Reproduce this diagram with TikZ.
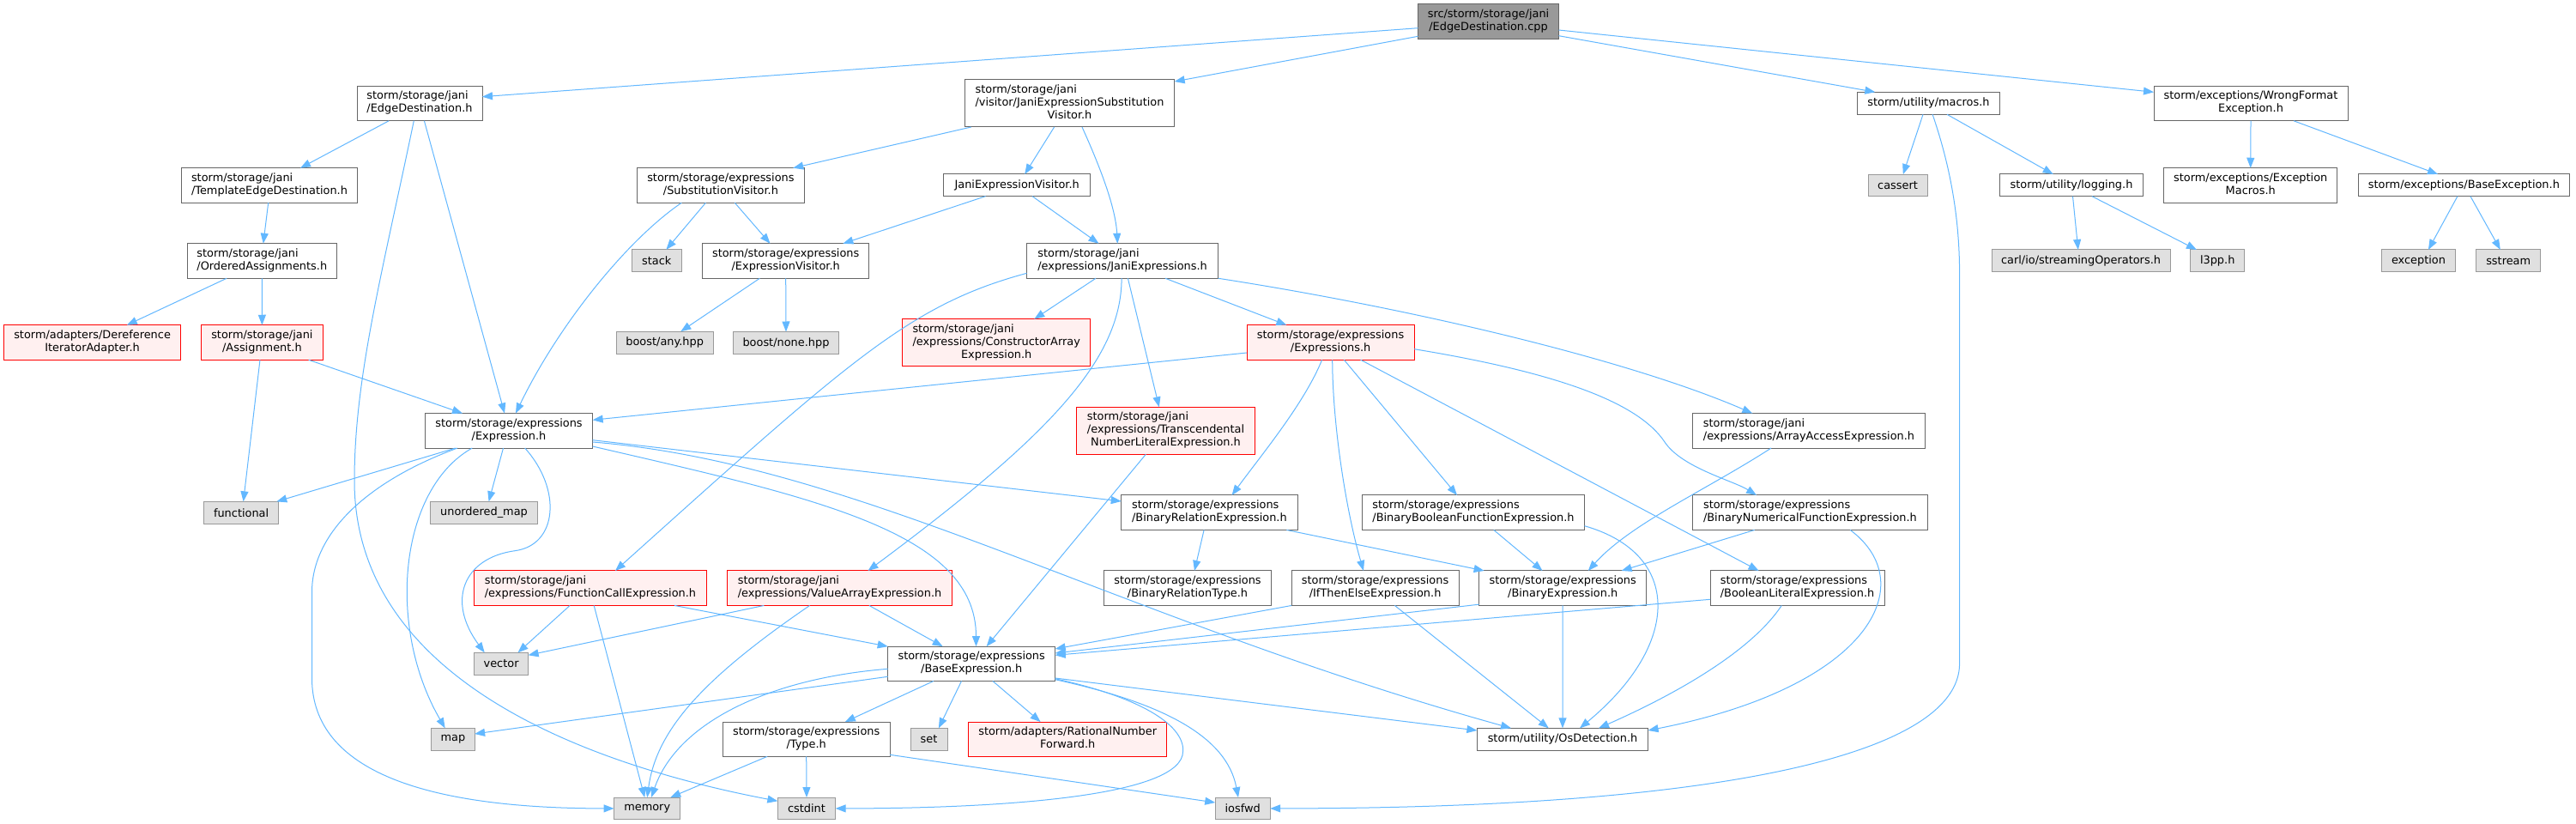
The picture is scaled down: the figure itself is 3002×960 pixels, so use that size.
\documentclass[tikz,border=0pt]{standalone}
\usepackage{fontspec}
\setmainfont{DejaVu Sans}
\usetikzlibrary{arrows.meta,calc}
\definecolor{edgeblue}{HTML}{63B8FF}
\definecolor{bordw}{HTML}{666666}
\definecolor{bordg}{HTML}{999999}
\definecolor{fillg}{HTML}{E0E0E0}
\definecolor{fillr}{HTML}{FFF0F0}
\definecolor{fillroot}{HTML}{999999}
\newcommand{\gfont}{\fontsize{12.9pt}{15pt}\selectfont}
\newcommand{\twol}[2]{\begin{tabular}{@{}l@{}}#1\\\multicolumn{1}{@{}c@{}}{#2}\end{tabular}}
\newcommand{\threel}[3]{\begin{tabular}{@{}l@{}}#1\\#2\\\multicolumn{1}{@{}c@{}}{#3}\end{tabular}}
\tikzset{
  nd/.style={rectangle, inner sep=0pt, outer sep=0pt, line width=1pt, font=\gfont, text=black},
  wnode/.style={nd, draw=bordw, fill=white},
  gnode/.style={nd, draw=bordg, fill=fillg},
  rnode/.style={nd, draw=red, fill=fillr},
  rootnode/.style={nd, draw=bordw, fill=fillroot},
  edg/.style={draw=edgeblue, line width=1pt, -{Triangle[length=12pt,width=9pt]}},
}
\begin{document}
\begin{tikzpicture}[x=1pt,y=-1pt]
\fill[white] (0,0) rectangle (3002,960);
\useasboundingbox (0,0) rectangle (3002,960);

% ---- nodes ----
\node[rootnode, minimum width=164pt, minimum height=40.6pt] (cpp) at (1734.5,25) {\twol{src/storm/storage/jani}{/EdgeDestination.cpp}};
\node[wnode, minimum width=146pt, minimum height=40.5pt] (ED) at (489,120.5) {\twol{storm/storage/jani}{/EdgeDestination.h}};
\node[wnode, minimum width=205.5pt, minimum height=40.5pt] (TED) at (314,216) {\twol{storm/storage/jani}{/TemplateEdgeDestination.h}};
\node[wnode, minimum width=174.5pt, minimum height=40.5pt] (OA) at (305.3,304) {\twol{storm/storage/jani}{/OrderedAssignments.h}};
\node[rnode, minimum width=205.6pt, minimum height=40.5pt] (DIA) at (107.6,399) {\twol{storm/adapters/Dereference}{IteratorAdapter.h}};
\node[rnode, minimum width=141.6pt, minimum height=40.5pt] (ASG) at (305.4,399) {\twol{storm/storage/jani}{/Assignment.h}};
\node[wnode, minimum width=244.3pt, minimum height=55pt] (JESV) at (1246.5,120.5) {\threel{storm/storage/jani}{/visitor/JaniExpressionSubstitution}{Visitor.h}};
\node[wnode, minimum width=195pt, minimum height=40.5pt] (SV) at (839.9,216) {\twol{storm/storage/expressions}{/SubstitutionVisitor.h}};
\node[wnode, minimum width=171pt, minimum height=25.7pt] (JEV) at (1185.2,215.8) {JaniExpressionVisitor.h};
\node[gnode, minimum width=58pt, minimum height=26pt] (stack) at (765.2,303.8) {stack};
\node[wnode, minimum width=194.4pt, minimum height=40.5pt] (EV) at (915.7,304) {\twol{storm/storage/expressions}{/ExpressionVisitor.h}};
\node[wnode, minimum width=223pt, minimum height=40.5pt] (JE) at (1308.1,304) {\twol{storm/storage/jani}{/expressions/JaniExpressions.h}};
\node[gnode, minimum width=112.7pt, minimum height=26pt] (bany) at (774.7,399.2) {boost/any.hpp};
\node[gnode, minimum width=123pt, minimum height=26pt] (bnone) at (916,399.5) {boost/none.hpp};
\node[rnode, minimum width=219pt, minimum height=54.6pt] (CAE) at (1161.2,399) {\threel{storm/storage/jani}{/expressions/ConstructorArray}{Expression.h}};
\node[rnode, minimum width=195.2pt, minimum height=40.5pt] (EXS) at (1550.6,399) {\twol{storm/storage/expressions}{/Expressions.h}};
\node[rnode, minimum width=207.5pt, minimum height=55pt] (TNLE) at (1358.5,501.8) {\threel{storm/storage/jani}{/expressions/Transcendental}{NumberLiteralExpression.h}};
\node[wnode, minimum width=166pt, minimum height=26pt] (macros) at (2247.5,120.3) {storm/utility/macros.h};
\node[gnode, minimum width=69pt, minimum height=25.7pt] (cassert) at (2211.5,216) {cassert};
\node[wnode, minimum width=226pt, minimum height=40.5pt] (WFE) at (2623,120.5) {\twol{storm/exceptions/WrongFormat}{Exception.h}};
\node[wnode, minimum width=167pt, minimum height=25.7pt] (logging) at (2414,215.8) {storm/utility/logging.h};
\node[wnode, minimum width=202pt, minimum height=40.5pt] (EM) at (2622.7,216) {\twol{storm/exceptions/Exception}{Macros.h}};
\node[wnode, minimum width=246.7pt, minimum height=25.7pt] (BE) at (2871.4,215.8) {storm/exceptions/BaseException.h};
\node[gnode, minimum width=208pt, minimum height=25.7pt] (carl) at (2425,303.8) {carl/io/streamingOperators.h};
\node[gnode, minimum width=63pt, minimum height=25.7pt] (l3pp) at (2584.2,303.8) {l3pp.h};
\node[gnode, minimum width=86.7pt, minimum height=25.7pt] (exception) at (2818.5,303.8) {exception};
\node[gnode, minimum width=75pt, minimum height=25.7pt] (sstream) at (2923.2,303.8) {sstream};
\node[wnode, minimum width=195.3pt, minimum height=40.5pt] (EX) at (593,501.8) {\twol{storm/storage/expressions}{/Expression.h}};
\node[gnode, minimum width=87.3pt, minimum height=25.7pt] (functional) at (281.1,597.2) {functional};
\node[gnode, minimum width=124.6pt, minimum height=25.7pt] (umap) at (564,597.2) {unordered\_map};
\node[rnode, minimum width=270.8pt, minimum height=40.5pt] (FCE) at (688,685.2) {\twol{storm/storage/jani}{/expressions/FunctionCallExpression.h}};
\node[gnode, minimum width=63pt, minimum height=25.7pt] (vector) at (584.1,773.2) {vector};
\node[gnode, minimum width=50.4pt, minimum height=25.7pt] (map) at (527.9,861.2) {map};
\node[gnode, minimum width=77.3pt, minimum height=25.7pt] (memory) at (754.2,941.9) {memory};
\node[rnode, minimum width=262.8pt, minimum height=40.5pt] (VAE) at (978.5,685.2) {\twol{storm/storage/jani}{/expressions/ValueArrayExpression.h}};
\node[wnode, minimum width=205.3pt, minimum height=40.5pt] (BRE) at (1409.4,597.2) {\twol{storm/storage/expressions}{/BinaryRelationExpression.h}};
\node[wnode, minimum width=195.3pt, minimum height=40.5pt] (BRT) at (1384,685.2) {\twol{storm/storage/expressions}{/BinaryRelationType.h}};
\node[wnode, minimum width=195pt, minimum height=40.3pt] (BX) at (1132.2,773.3) {\twol{storm/storage/expressions}{/BaseExpression.h}};
\node[wnode, minimum width=194.8pt, minimum height=40.3pt] (Type) at (939.7,861.2) {\twol{storm/storage/expressions}{/Type.h}};
\node[gnode, minimum width=43pt, minimum height=25.7pt] (set) at (1082.5,861.2) {set};
\node[rnode, minimum width=230.7pt, minimum height=40.3pt] (RNF) at (1244.2,861.2) {\twol{storm/adapters/RationalNumber}{Forward.h}};
\node[gnode, minimum width=67.3pt, minimum height=25.7pt] (cstdint) at (940,941.9) {cstdint};
\node[gnode, minimum width=64pt, minimum height=25.7pt] (iosfwd) at (1448.2,941.9) {iosfwd};
\node[wnode, minimum width=271pt, minimum height=40.5pt] (AAE) at (2108,501.8) {\twol{storm/storage/jani}{/expressions/ArrayAccessExpression.h}};
\node[wnode, minimum width=259pt, minimum height=40.5pt] (BBFE) at (1717,597.2) {\twol{storm/storage/expressions}{/BinaryBooleanFunctionExpression.h}};
\node[wnode, minimum width=273.8pt, minimum height=40.5pt] (BNFE) at (2109.4,597.2) {\twol{storm/storage/expressions}{/BinaryNumericalFunctionExpression.h}};
\node[wnode, minimum width=195pt, minimum height=40.5pt] (ITE) at (1602.6,685.2) {\twol{storm/storage/expressions}{/IfThenElseExpression.h}};
\node[wnode, minimum width=195pt, minimum height=40.5pt] (BE2) at (1821.2,685.2) {\twol{storm/storage/expressions}{/BinaryExpression.h}};
\node[wnode, minimum width=203pt, minimum height=40.5pt] (BLE) at (2094.5,685.2) {\twol{storm/storage/expressions}{/BooleanLiteralExpression.h}};
\node[wnode, minimum width=199.2pt, minimum height=25.7pt] (OS) at (1821,861.2) {storm/utility/OsDetection.h};

% ---- edges ----
\draw[edg] ([yshift=-7.7pt]cpp.west) -- ([yshift=7.8pt]ED.east);
\draw[edg] ([yshift=-17.3pt]cpp.west) -- ([yshift=-2pt]JESV.north east);
\draw[edg] ([yshift=-10pt]cpp.east) -- ([yshift=13.2pt]WFE.west);
\draw[edg] ([yshift=-16.7pt]cpp.east) -- ([xshift=-62.2pt]macros.north);
\draw[edg] ([xshift=-35.8pt]ED.south) -- ([xshift=36pt]TED.north);
\draw[edg] ([xshift=5.4pt]ED.south) -- ([xshift=-5pt]EX.north);
\draw[edg] ([xshift=-6.7pt]ED.south) .. controls (445,320) and (413,440) .. (413,560) .. controls (413,790) and (680,890) .. ([yshift=8.6pt]cstdint.west);
\draw[edg] ([xshift=-1.3pt]TED.south) -- ([xshift=1.5pt]OA.north);
\draw[edg] ([xshift=-41.1pt]OA.south) -- ([xshift=40.2pt]DIA.north);
\draw[edg] (OA.south) -- (ASG.north);
\draw[edg] ([xshift=-2.4pt]ASG.south) -- ([xshift=2.5pt]functional.north);
\draw[edg] ([xshift=54.3pt]ASG.south) -- ([xshift=-54pt]EX.north);
\draw[edg] ([xshift=-114.8pt]JESV.south) -- ([xshift=84.3pt]SV.north);
\draw[edg] ([xshift=-17.9pt]JESV.south) -- ([xshift=9pt]JEV.north);
\draw[edg] ([xshift=14.5pt]JESV.south) .. controls (1280,190) and (1300,240) .. ([xshift=-5.8pt]JE.north);
\draw[edg] ([xshift=-17.5pt]SV.south) -- ([xshift=11.2pt]stack.north);
\draw[edg] ([xshift=16.4pt]SV.south) -- ([xshift=-18.2pt]EV.north);
\draw[edg] ([xshift=-45.6pt]SV.south) .. controls (730,280) and (650,380) .. ([xshift=8pt]EX.north);
\draw[edg] ([xshift=-36.6pt]JEV.south) -- ([xshift=66.7pt]EV.north);
\draw[edg] ([xshift=17.8pt]JEV.south) -- ([xshift=-27.6pt]JE.north);
\draw[edg] ([xshift=-30.3pt]EV.south) -- ([xshift=18.6pt]bany.north);
\draw[edg] (EV.south) -- (bnone.north);
\draw[edg] ([xshift=-31.1pt]JE.south) -- ([xshift=44.1pt]CAE.north);
\draw[edg] ([yshift=-14.3pt]JE.west) .. controls (1060,355) and (990,420) .. ([xshift=29pt]FCE.north);
\draw[edg] ([xshift=-1pt]JE.south) .. controls (1307,420) and (1220,510) .. ([xshift=33pt]VAE.north);
\draw[edg] ([xshift=6.3pt]JE.south) -- ([xshift=-7.7pt]TNLE.north);
\draw[edg] ([xshift=49.9pt]JE.south) -- ([xshift=-51.2pt]EXS.north);
\draw[edg] (JE.south east) .. controls (1650,360) and (1900,420) .. ([xshift=-65.7pt]AAE.north);
\draw[edg] ([yshift=-12pt]EXS.west) -- ([yshift=12.5pt]EX.east);
\draw[edg] ([xshift=-10pt]EXS.south) .. controls (1520,470) and (1470,530) .. ([xshift=26.2pt]BRE.north);
\draw[edg] ([xshift=2.1pt]EXS.south) .. controls (1553,500) and (1570,600) .. ([xshift=-13.6pt]ITE.north);
\draw[edg] ([xshift=15.7pt]EXS.south) -- ([xshift=-19pt]BBFE.north);
\draw[edg] ([xshift=35.1pt]EXS.south) -- ([xshift=-44.9pt]BLE.north);
\draw[edg] ([yshift=-7.7pt]EXS.east) .. controls (1820,435) and (1910,470) .. (1940,515) .. controls (1960,545) and (2020,560) .. ([xshift=-62.4pt]BNFE.north);
\draw[edg] ([xshift=-44pt]AAE.south) .. controls (1990,570) and (1900,610) .. ([xshift=29.6pt]BE2.north);
\draw[edg] ([xshift=-62.2pt]EX.south) -- ([xshift=41.2pt]functional.north);
\draw[edg] ([xshift=-6.5pt]EX.south) -- ([xshift=5.6pt]umap.north);
\draw[edg] ([xshift=18.7pt]EX.south) .. controls (655,570) and (650,635) .. (600,641.7) .. controls (540,650) and (520,700) .. ([xshift=-19.4pt]vector.north);
\draw[edg] ([xshift=-42.8pt]EX.south) .. controls (465,570) and (450,730) .. ([xshift=-9.2pt]map.north);
\draw[edg] ([xshift=-60pt]EX.south) .. controls (430,560) and (363.5,620) .. (363.5,690) -- (363.5,790) .. controls (363.5,900) and (500,941.9) .. (memory.west);
\draw[edg] ([yshift=-10.9pt]EX.east) -- ([yshift=13.2pt]BRE.west);
\draw[edg] ([yshift=-13.2pt]EX.east) .. controls (1000,540) and (1300,720) .. ([xshift=-60pt]OS.north);
\draw[edg] ([yshift=-18.2pt]EX.east) .. controls (950,580) and (1137.5,620) .. ([xshift=5.3pt]BX.north);
\draw[edg] ([xshift=-6.3pt]BRE.south) -- ([xshift=8pt]BRT.north);
\draw[edg] ([xshift=90pt]BRE.south) -- ([xshift=-91.6pt]BE2.north);
\draw[edg] ([xshift=23.8pt]BBFE.south) -- ([xshift=-23.7pt]BE2.north);
\draw[edg] ([yshift=-15.5pt]BBFE.east) .. controls (1960,645) and (1960,750) .. ([xshift=20pt]OS.north);
\draw[edg] ([xshift=-64.7pt]BNFE.south) -- ([xshift=68.4pt]BE2.north);
\draw[edg] ([xshift=46.8pt]BNFE.south) .. controls (2240,680) and (2180,800) .. ([yshift=10.2pt]OS.east);
\draw[edg] (BE2.south) -- (OS.north);
\draw[edg] ([yshift=1.3pt]BE2.south west) -- ([yshift=12.3pt]BX.east);
\draw[edg] (ITE.south west) -- ([yshift=17.3pt]BX.east);
\draw[edg] ([yshift=-13.1pt]BLE.west) -- ([yshift=10pt]BX.east);
\draw[edg] ([xshift=-18.3pt]BLE.south) .. controls (2040,760) and (1950,810) .. ([xshift=42pt]OS.north);
\draw[edg] ([xshift=22.8pt]ITE.south) -- ([xshift=-16.2pt]OS.north);
\draw[edg] ([xshift=-23.2pt]TNLE.south) -- ([xshift=17.4pt]BX.north);
\draw[edg] ([xshift=34.4pt]VAE.south) -- ([xshift=-33.5pt]BX.north);
\draw[edg] ([xshift=-88.2pt]VAE.south) -- ([yshift=9.9pt]vector.east);
\draw[edg] ([xshift=-34.9pt]VAE.south) .. controls (820,790) and (765,850) .. (memory.north);
\draw[edg] ([xshift=-23.9pt]FCE.south) -- ([xshift=19.4pt]vector.north);
\draw[edg] ([xshift=4.2pt]FCE.south) -- ([xshift=-2.9pt]memory.north);
\draw[edg] ([xshift=98pt]FCE.south) -- (BX.north west);
\draw[edg] ([xshift=-44.2pt]BX.south) -- ([xshift=45.1pt]Type.north);
\draw[edg] ([xshift=-11.7pt]BX.south) -- ([xshift=11.4pt]set.north);
\draw[edg] ([xshift=24.7pt]BX.south) -- ([xshift=-31.6pt]RNF.north);
\draw[edg] ([yshift=-6pt]BX.west) .. controls (900,790) and (790,840) .. ([xshift=4.8pt]memory.north);
\draw[edg] ([yshift=-15pt]BX.west) -- ([yshift=6.2pt]map.east);
\draw[edg] ([yshift=-17.4pt]BX.east) .. controls (1340,815) and (1385,850) .. (1378,880) .. controls (1365,930) and (1150,941.9) .. (cstdint.east);
\draw[edg] ([yshift=-18.4pt]BX.east) .. controls (1360,820) and (1430,860) .. ([xshift=-5.2pt]iosfwd.north);
\draw[edg] ([yshift=-16.7pt]BX.east) -- ([yshift=10.2pt]OS.west);
\draw[edg] ([xshift=-45.6pt]Type.south) -- ([xshift=27pt]memory.north);
\draw[edg] (Type.south) -- (cstdint.north);
\draw[edg] ([yshift=-18.1pt]Type.east) -- ([yshift=6.9pt]iosfwd.west);
\draw[edg] ([xshift=-6.5pt]macros.south) -- ([xshift=6.3pt]cassert.north);
\draw[edg] ([xshift=21.5pt]macros.south) -- ([xshift=-21.3pt]logging.north);
\draw[edg] ([xshift=4.6pt]macros.south) .. controls (2275,200) and (2283.6,260) .. (2283.6,320) -- (2283.6,773) .. controls (2283.6,880) and (2000,941.9) .. (iosfwd.east);
\draw[edg] ([xshift=1.5pt]logging.south) -- ([xshift=-3.2pt]carl.north);
\draw[edg] ([xshift=23.8pt]logging.south) -- ([xshift=-24.3pt]l3pp.north);
\draw[edg] (WFE.south) -- (EM.north);
\draw[edg] ([xshift=49.9pt]WFE.south) -- ([xshift=-30.4pt]BE.north);
\draw[edg] ([xshift=-7.5pt]BE.south) -- ([xshift=11.4pt]exception.north);
\draw[edg] ([xshift=7.5pt]BE.south) -- ([xshift=-9.4pt]sstream.north);
\end{tikzpicture}
\end{document}
